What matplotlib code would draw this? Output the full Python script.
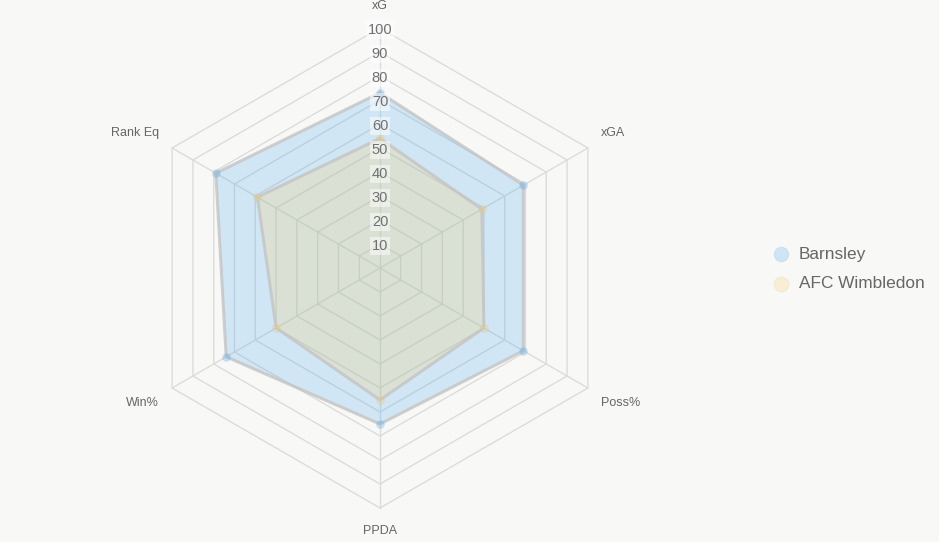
import numpy as np
import matplotlib.pyplot as plt

plt.rcParams['font.family'] = ['Liberation Sans', 'DejaVu Sans']

# data
metrics = ['xG', 'xGA', 'Poss%', 'PPDA', 'Win%', 'Rank Eq']
barnsley = [73, 69, 69, 65, 74, 79]
wimbledon = [54, 49, 50, 55, 50, 59]
teams = ['Barnsley', 'AFC Wimbledon']
ticks = [10, 20, 30, 40, 50, 60, 70, 80, 90, 100]

bg = '#f8f8f7'
fills = ['#36a2eb', '#ffce56']
edges = ['#8dbbe0', '#cfc79a']

fig = plt.figure(figsize=(9.39, 5.42), dpi=100, facecolor=bg)
ax = fig.add_axes([0, 0, 1, 1])
ax.set_facecolor(bg)
# 2.4 px per unit, centre at pixel (380, 268)
ax.set_xlim(-380 / 2.4, (939 - 380) / 2.4)
ax.set_ylim((268 - 542) / 2.4, 268 / 2.4)
ax.axis('off')

n = len(metrics)
ang = np.arange(n) * 2 * np.pi / n


def xy(vals):
    vals = np.asarray(vals, dtype=float)
    return vals * np.sin(ang), vals * np.cos(ang)


# grid rings and spokes
for t in ticks:
    gx, gy = xy([t] * n)
    ax.plot(np.append(gx, gx[0]), np.append(gy, gy[0]), color='#dcdcdc', lw=1, zorder=1)
for a in ang:
    ax.plot([0, 100 * np.sin(a)], [0, 100 * np.cos(a)], color='#dcdcdc', lw=1, zorder=1)

# series
for vals, fc, ec, lab in [(barnsley, fills[0], edges[0], teams[0]),
                          (wimbledon, fills[1], edges[1], teams[1])]:
    px, py = xy(vals)
    ax.fill(px, py, color=fc, alpha=0.2, lw=0, zorder=2)
    ax.plot(np.append(px, px[0]), np.append(py, py[0]), color='#c4c4c4', lw=2.2, alpha=0.8, zorder=3)
    ax.scatter(px, py, s=30, color=fc, alpha=0.25, edgecolors=ec, linewidths=1, zorder=4)

# tick labels
for t in ticks:
    ax.text(0, t - 0.8, str(t), ha='center', va='center', fontsize=10.5, color='#707070', zorder=5,
            bbox=dict(boxstyle='square,pad=0.15', fc='white', ec='none', alpha=0.5))

# axis labels
label_pos = {
    'xG': (0, 109.0, 'center'),
    'xGA': (92, 56.2, 'left'),
    'Poss%': (92, -56.2, 'left'),
    'PPDA': (0, -109.6, 'center'),
    'Win%': (-92, -56.2, 'right'),
    'Rank Eq': (-92, 56.2, 'right'),
}
for m in metrics:
    lx, ly, ha = label_pos[m]
    ax.text(lx, ly, m, ha=ha, va='center', fontsize=9, color='#666666')

# legend
for i, (lab, fc, ec) in enumerate(zip(teams, fills, edges)):
    ly = (268 - (254 + 30 * i)) / 2.4
    lx = (781 - 380) / 2.4
    ax.scatter([lx], [ly], s=110, color=fc, alpha=0.22, edgecolors=ec, linewidths=0.8)
    ax.text((799 - 380) / 2.4, ly, lab, ha='left', va='center', fontsize=12.4, color='#666666')

fig.savefig('out.png', dpi=100, facecolor=bg)
